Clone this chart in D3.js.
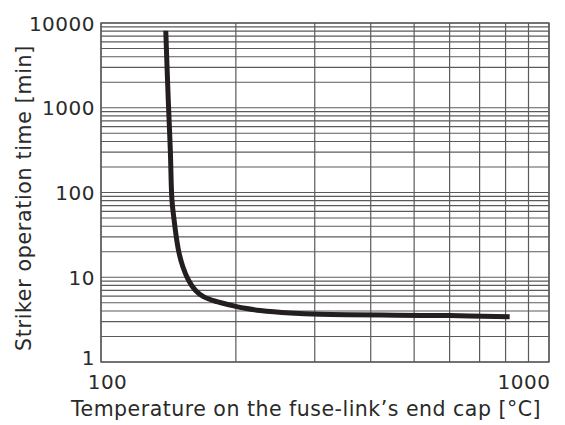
<!DOCTYPE html>
<html><head><meta charset="utf-8">
<script src="https://cdn.jsdelivr.net/npm/d3@7"></script>
<style>
html,body{margin:0;padding:0;background:#fff;}
svg{display:block;}
</style></head>
<body>
<script>
const temperatures = [139.5, 141.3, 142.8, 144.0, 145.6, 147.6, 149.4, 152.3, 156.7, 162.2, 169.3, 181.4, 194.2, 209.8, 226.7, 264.5, 308.6, 600, 817];
const times = [8100, 1230, 317, 81.6, 47.4, 27.5, 19.2, 13.3, 9.28, 7.07, 5.90, 5.15, 4.71, 4.30, 4.05, 3.78, 3.65, 3.53, 3.43];
const xTickValues = [100, 1000];
const xTickLabels = ["100", "1000"];
const yTickValues = [1, 10, 100, 1000, 10000];
const yTickLabels = ["1", "10", "100", "1000", "10000"];
const xTitle = "Temperature on the fuse-link\u2019s end cap [\u00B0C]";
const yTitle = "Striker operation time [min]";

const W = 565, H = 425;
const m = {left: 101, right: 16, top: 23, bottom: 63};
const iw = W - m.left - m.right, ih = H - m.top - m.bottom;

const svg = d3.select("body").append("svg").attr("width", W).attr("height", H);
const g = svg.append("g").attr("transform", `translate(${m.left},${m.top})`);

const x = d3.scaleLog().domain([100, 1000]).range([0, iw]);
const y = d3.scaleLog().domain([1, 10000]).range([ih, 0]);

const gridColor = "#5b5b5b";
const xGrid = [];
for (let v = 100; v <= 1000; v += 100) xGrid.push(v);
const yGrid = [];
for (let d = 1; d < 10000; d *= 10) for (let k = 1; k < 10; k++) yGrid.push(k * d);
yGrid.push(10000);

g.append("g").selectAll("line").data(yGrid).join("line")
  .attr("x1", 0).attr("x2", iw)
  .attr("y1", d => y(d)).attr("y2", d => y(d))
  .attr("stroke", gridColor).attr("stroke-width", 1.2);
g.append("g").selectAll("line").data(xGrid).join("line")
  .attr("y1", 0).attr("y2", ih)
  .attr("x1", d => x(d)).attr("x2", d => x(d))
  .attr("stroke", gridColor).attr("stroke-width", 1.2);
g.append("rect").attr("x", 0).attr("y", 0).attr("width", iw).attr("height", ih)
  .attr("fill", "none").attr("stroke", gridColor).attr("stroke-width", 1.4);

const tickFont = "'DejaVu Sans', sans-serif";
const xAxis = g.append("g").attr("transform", `translate(0,${ih})`)
  .call(d3.axisBottom(x).tickValues(xTickValues).tickFormat((d, i) => xTickLabels[i]).tickSize(0).tickPadding(0));
xAxis.select(".domain").remove();
xAxis.selectAll("text")
  .attr("font-family", tickFont).attr("font-size", 20).attr("letter-spacing", 0.5).attr("fill", "#2a2a2a")
  .attr("dy", null).attr("y", 27)
  .attr("text-anchor", (d, i) => i === 0 ? "middle" : "end")
  .attr("x", (d, i) => i === 0 ? 6 : 1);

const yAxis = g.append("g")
  .call(d3.axisLeft(y).tickValues(yTickValues).tickFormat((d, i) => yTickLabels[i]).tickSize(0).tickPadding(6));
yAxis.select(".domain").remove();
yAxis.selectAll("text")
  .attr("font-family", tickFont).attr("font-size", 20).attr("letter-spacing", 0.5).attr("fill", "#2a2a2a")
  .attr("dy", (d, i) => i === 0 ? "0.12em" : "0.36em");

const line = d3.line()
  .x((d, i) => x(temperatures[i]))
  .y((d, i) => y(times[i]))
  .curve(d3.curveCatmullRom.alpha(0.5));
g.append("path").datum(times).attr("d", line)
  .attr("fill", "none").attr("stroke", "#231f20").attr("stroke-width", 5)
  .attr("stroke-linejoin", "round");

const titleFont = "'DejaVu Sans', sans-serif";
svg.append("text").attr("x", 306).attr("y", 416)
  .attr("text-anchor", "middle").attr("font-family", titleFont).attr("font-size", 20.5).attr("letter-spacing", 0.5).attr("fill", "#2a2a2a")
  .text(xTitle);
svg.append("text").attr("transform", `translate(31,198) rotate(-90)`)
  .attr("text-anchor", "middle").attr("font-family", titleFont).attr("font-size", 20.5).attr("letter-spacing", 0.7).attr("fill", "#2a2a2a")
  .text(yTitle);
</script>
</body></html>
